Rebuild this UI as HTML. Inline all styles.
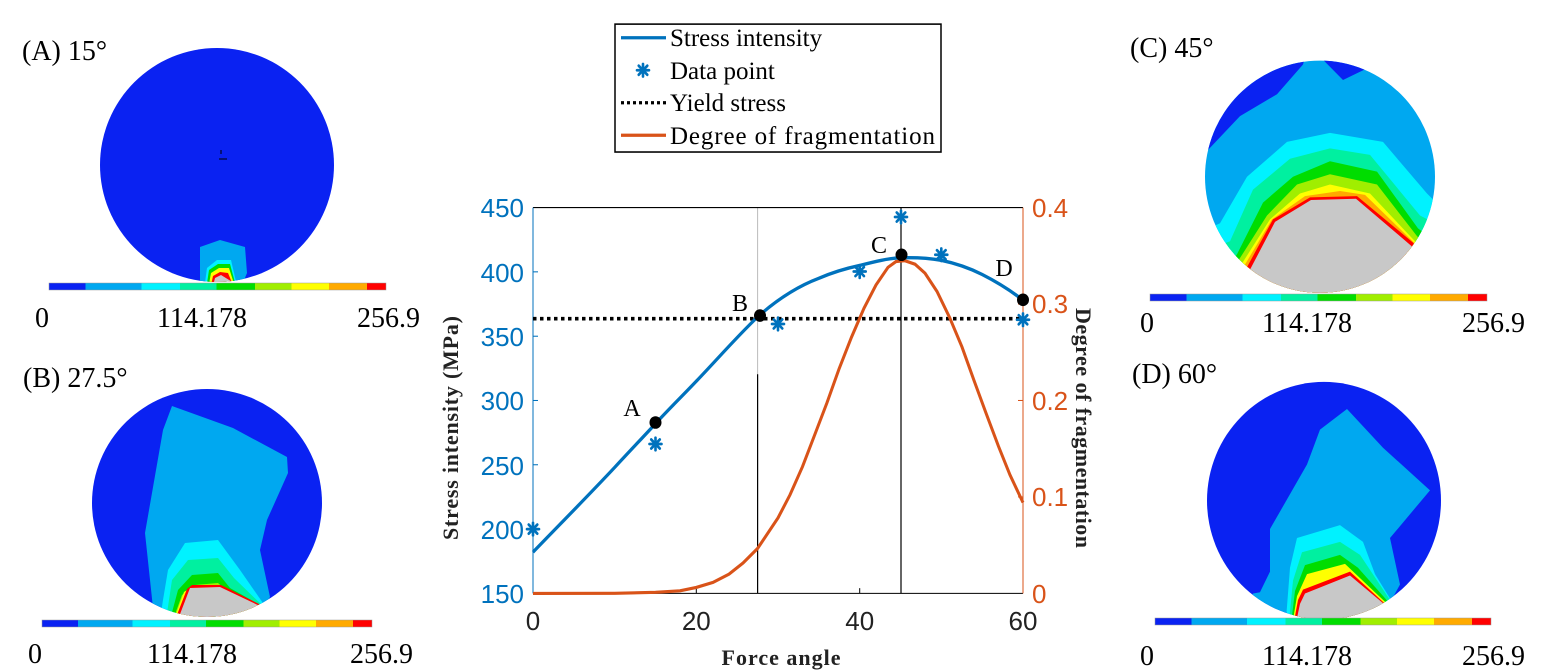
<!DOCTYPE html>
<html><head><meta charset="utf-8"><style>html,body{margin:0;padding:0;background:#fff}svg{display:block}</style></head>
<body>
<svg width="1558" height="671" viewBox="0 0 1558 671" xmlns="http://www.w3.org/2000/svg" font-family="'Liberation Serif', serif">
<defs>
<linearGradient id="cb" x1="0" x2="1" y1="0" y2="0">
<stop offset="0" stop-color="#0a22f2"/><stop offset="0.109" stop-color="#0a22f2"/>
<stop offset="0.109" stop-color="#00a8f0"/><stop offset="0.274" stop-color="#00a8f0"/>
<stop offset="0.274" stop-color="#00f2ff"/><stop offset="0.388" stop-color="#00f2ff"/>
<stop offset="0.388" stop-color="#00f0a0"/><stop offset="0.497" stop-color="#00f0a0"/>
<stop offset="0.497" stop-color="#00dd00"/><stop offset="0.611" stop-color="#00dd00"/>
<stop offset="0.611" stop-color="#a0ee00"/><stop offset="0.72" stop-color="#a0ee00"/>
<stop offset="0.72" stop-color="#ffff00"/><stop offset="0.831" stop-color="#ffff00"/>
<stop offset="0.831" stop-color="#ffaa00"/><stop offset="0.943" stop-color="#ffaa00"/>
<stop offset="0.943" stop-color="#ff0000"/><stop offset="1" stop-color="#ff0000"/>
</linearGradient>
<clipPath id="ca"><ellipse cx="217" cy="165" rx="117" ry="117"/></clipPath>
<clipPath id="cbb"><ellipse cx="207" cy="503" rx="115" ry="114"/></clipPath>
<clipPath id="cc"><ellipse cx="1320" cy="137" rx="115" ry="90"/></clipPath>
<clipPath id="cd"><ellipse cx="1324" cy="388" rx="117" ry="92"/></clipPath>
<g id="ast" stroke="#0072BD" stroke-width="2.6" stroke-linecap="round">
<line x1="-6" y1="0" x2="6" y2="0"/><line x1="0" y1="-6" x2="0" y2="6"/><line x1="-4.3" y1="-4.3" x2="4.3" y2="4.3"/><line x1="-4.3" y1="4.3" x2="4.3" y2="-4.3"/>
</g>
</defs>

<!-- Panel A -->
<text x="22" y="60" font-size="28">(A) 15°</text>
<g clip-path="url(#ca)">
<rect x="90" y="40" width="260" height="250" fill="#0a22f2"/>
<path d="M200,247 L220,240 L245,247 L247,273 L240,290 L200,290 Z" fill="#00a8f0"/>
<path d="M204,290 L207,268 L217,260 L231,260 L238,290 Z" fill="#00f2ff"/>
<path d="M206,290 L209,270 L218,264 L230,264 L237,290 Z" fill="#00dd00"/>
<path d="M208,290 L211,273 L219,268 L229,268 L236,290 Z" fill="#ffff00"/>
<path d="M210,290 L213,276 L220,272 L228,273 L235,290 Z" fill="#ff0000"/>
<path d="M212,290 L215,278 L221,275 L234,283 L234,290 Z" fill="#c8c8c8"/>
</g>
<path d="M221,154 l0,-4 M219,159 l8,0" stroke="#000" stroke-width="1"/>
<rect x="49" y="283" width="337" height="7" fill="url(#cb)" stroke="#999" stroke-width="0.5"/>
<g font-size="28"><text x="35" y="327">0</text><text x="157" y="327">114.178</text><text x="357" y="327">256.9</text></g>

<!-- Panel B -->
<text x="23" y="387" font-size="28">(B) 27.5°</text>
<g clip-path="url(#cbb)">
<rect x="85" y="385" width="245" height="240" fill="#0a22f2"/>
<path d="M172,406 L233,428 L287,457 L288,473 L267,520 L260,550 L270,597 L263,608 L153,608 L145,533 L163,430 Z" fill="#00a8f0"/>
<path d="M160,620 L163,600 L168,570 L185,543 L218,540 L240,570 L265,606 L265,620 Z" fill="#00f2ff"/>
<path d="M166,620 L172,580 L188,560 L218,558 L234,578 L265,608 L265,620 Z" fill="#00f0a0"/>
<path d="M170,620 L178,590 L192,575 L218,573 L230,588 L265,608 L265,620 Z" fill="#00dd00"/>
<path d="M173,620 L182,595 L195,585 L218,583 L228,592 L265,608 L265,620 Z" fill="#a0ee00"/>
<path d="M174,620 L184,592 L193,586 L221,587 L265,608 L265,620 Z" fill="#ffff00"/>
<path d="M175,620 L187,589 L192,585 L221,585 L263,606 L265,620 Z" fill="#ff0000"/>
<path d="M177,622 L190,588 L220,587 L262,607 L262,622 Z" fill="#c8c8c8"/>
</g>
<rect x="42" y="620" width="330" height="7" fill="url(#cb)" stroke="#999" stroke-width="0.5"/>
<g font-size="28"><text x="28" y="663">0</text><text x="147" y="663">114.178</text><text x="350" y="663">256.9</text></g>

<!-- Panel C -->
<text x="1130" y="57" font-size="28">(C) 45°</text>
<g transform="scale(1,1.2903)">
<g clip-path="url(#cc)">
<rect x="1200" y="40" width="240" height="190" fill="#00a8f0"/>
<path d="M1195,30 L1195,117 L1207,117 L1240,90 L1277,73 L1303,50 L1310,30 Z" fill="#0a22f2"/>
<path d="M1315,40 L1343,62 L1367,53 L1370,40 Z" fill="#0a22f2"/>
<path d="M1200,240 L1200,180 L1220,173 L1247,137 L1287,110 L1330,103 L1383,110 L1427,150 L1440,160 L1440,240 Z" fill="#00f2ff"/>
<path d="M1200,240 L1220,190 L1230,187 L1253,147 L1290,123 L1330,115 L1370,120 L1420,167 L1440,175 L1440,240 Z" fill="#00f0a0"/>
<path d="M1200,240 L1237,197 L1263,157 L1293,137 L1330,125 L1377,133 L1418,177 L1440,190 L1440,240 Z" fill="#00dd00"/>
<path d="M1200,240 L1240,200 L1267,167 L1297,143 L1330,135 L1377,143 L1417,183 L1440,200 L1440,240 Z" fill="#a0ee00"/>
<path d="M1200,240 L1243,203 L1270,170 L1300,150 L1330,143 L1370,150 L1415,187 L1440,205 L1440,240 Z" fill="#ffff00"/>
<path d="M1200,240 L1245,205 L1272,170 L1305,152 L1340,148 L1365,151 L1414,188 L1440,210 L1440,240 Z" fill="#ffaa00"/>
<path d="M1200,240 L1247,207 L1273,170 L1310,153 L1357,152 L1413,188 L1440,212 L1440,240 Z" fill="#ff0000"/>
<path d="M1200,240 L1250,209 L1275,172 L1311,155 L1356,154 L1412,191 L1440,214 L1440,240 Z" fill="#c8c8c8"/>
</g>
</g>
<rect x="1150" y="294" width="337" height="7" fill="url(#cb)" stroke="#999" stroke-width="0.5"/>
<g font-size="28"><text x="1140" y="332">0</text><text x="1262" y="332">114.178</text><text x="1462" y="332">256.9</text></g>

<!-- Panel D -->
<text x="1132" y="383" font-size="28">(D) 60°</text>
<g transform="scale(1,1.2903)">
<g clip-path="url(#cd)">
<rect x="1200" y="290" width="250" height="190" fill="#0a22f2"/>
<path d="M1307,360 L1320,333 L1347,317 L1383,347 L1430,380 L1390,417 L1400,453 L1388,470 L1253,470 L1270,443 L1270,410 Z" fill="#00a8f0"/>
<path d="M1240,490 L1253,460 L1290,455 L1300,470 Z" fill="#00a8f0"/>
<path d="M1285,490 L1290,440 L1297,417 L1340,407 L1363,420 L1375,445 L1395,470 L1395,490 Z" fill="#00f2ff"/>
<path d="M1288,490 L1293,450 L1302,428 L1340,420 L1360,430 L1390,465 L1390,490 Z" fill="#00f0a0"/>
<path d="M1290,490 L1295,458 L1305,438 L1340,430 L1358,440 L1390,468 L1390,490 Z" fill="#00dd00"/>
<path d="M1291,490 L1297,462 L1307,445 L1345,437 L1390,470 L1390,490 Z" fill="#ffff00"/>
<path d="M1292,490 L1298,465 L1303,457 L1350,443 L1388,470 L1388,490 Z" fill="#ff0000"/>
<path d="M1294,490 L1300,468 L1305,460 L1350,446 L1387,470 L1387,490 Z" fill="#c8c8c8"/>
</g>
</g>
<rect x="1155" y="618" width="336" height="7" fill="url(#cb)" stroke="#999" stroke-width="0.5"/>
<g font-size="28"><text x="1140" y="665">0</text><text x="1262" y="665">114.178</text><text x="1462" y="665">256.9</text></g>

<!-- Chart graphics (vertically scaled) -->
<g transform="scale(1,1.0484)">
<rect x="615" y="23" width="326" height="122" fill="#fff" stroke="#000" stroke-width="1.5"/>
<line x1="621" y1="36" x2="666" y2="36" stroke="#0072BD" stroke-width="3"/>
<use href="#ast" x="643" y="67"/>
<line x1="621" y1="98" x2="666" y2="98" stroke="#000" stroke-width="3" stroke-dasharray="3,3"/>
<line x1="621" y1="129" x2="666" y2="129" stroke="#D95319" stroke-width="3"/>

<line x1="757.6" y1="198" x2="757.6" y2="566" stroke="#bbb" stroke-width="1"/>
<line x1="757.6" y1="357" x2="757.6" y2="566" stroke="#000" stroke-width="1.2"/>
<line x1="901" y1="198" x2="901" y2="566" stroke="#000" stroke-width="1.2"/>
<line x1="533" y1="198" x2="1023" y2="198" stroke="#000" stroke-width="1"/>
<line x1="533" y1="566" x2="1023" y2="566" stroke="#000" stroke-width="1"/>
<line x1="533" y1="198" x2="533" y2="566" stroke="#0072BD" stroke-width="1"/>
<line x1="1023" y1="198" x2="1023" y2="566" stroke="#D95319" stroke-width="1"/>
<g stroke="#000" stroke-width="1">
<line x1="696.3" y1="566" x2="696.3" y2="561"/><line x1="859.7" y1="566" x2="859.7" y2="561"/>
</g>
<g stroke="#0072BD" stroke-width="1">
<line x1="533" y1="504.7" x2="538" y2="504.7"/><line x1="533" y1="443.3" x2="538" y2="443.3"/><line x1="533" y1="382" x2="538" y2="382"/><line x1="533" y1="320.7" x2="538" y2="320.7"/><line x1="533" y1="259.3" x2="538" y2="259.3"/>
</g>
<g stroke="#D95319" stroke-width="1">
<line x1="1018" y1="474" x2="1023" y2="474"/><line x1="1018" y1="382" x2="1023" y2="382"/><line x1="1018" y1="290" x2="1023" y2="290"/>
</g>

<line x1="533" y1="304" x2="1023" y2="304" stroke="#000" stroke-width="3.5" stroke-dasharray="3.5,3.5"/>

<polyline fill="none" stroke="#D95319" stroke-width="3" points="533,566 614.7,565.9 655.5,565 680,563.5 696.3,560.3 713,555.5 729,547.6 743,537 757.6,523.1 778,494 790,472 802.5,445.1 815,414 827,384.1 839,352 851.5,321.6 864,294 876,271.8 888,255 896,249.5 904.6,248.6 915,252 925,260.6 937,278 949.5,302.6 962,331 974,362.9 986,394 998.5,425.7 1010,453 1023,479.4"/>

<path fill="none" stroke="#0072BD" stroke-width="3.2" d="M533,526.7 C560,500 590,471 614.7,445.8 C628,432 642,418 655.5,404.1 C669,390 683,377 696.3,363.6 C717,343 737,321 757.6,302.3 C778,285 798,273 818.8,265.5 C832,260 846,256 859.7,253.2 C873,250 887,246.5 900.5,245.9 C914,245.5 928,246 941.3,248.3 C955,251 969,255.5 982.2,261.8 C996,268.5 1010,276.5 1023,286.4"/>

<use href="#ast" x="533" y="504.7"/>
<use href="#ast" x="655.5" y="423.5"/>
<use href="#ast" x="778" y="309"/>
<use href="#ast" x="859.7" y="259"/>
<use href="#ast" x="901" y="207"/>
<use href="#ast" x="941.3" y="243"/>
<use href="#ast" x="1023" y="305"/>

<g fill="#000">
<circle cx="655.5" cy="403" r="6"/><circle cx="760" cy="301" r="6"/><circle cx="901.5" cy="243" r="6"/><circle cx="1023" cy="286" r="6"/>
</g>
</g>

<!-- Legend text -->
<g font-size="25">
<text x="670" y="46">Stress intensity</text>
<text x="670" y="79">Data point</text>
<text x="670" y="111">Yield stress</text>
<text x="670" y="144" textLength="265">Degree of fragmentation</text>
</g>

<g font-family="'Liberation Sans', sans-serif" font-size="26" fill="#0072BD" text-anchor="end">
<text x="524" y="603">150</text><text x="524" y="539">200</text><text x="524" y="475">250</text><text x="524" y="410">300</text><text x="524" y="346">350</text><text x="524" y="282">400</text><text x="524" y="217">450</text>
</g>
<g font-family="'Liberation Sans', sans-serif" font-size="26" fill="#D95319">
<text x="1032" y="603">0</text><text x="1032" y="506">0.1</text><text x="1032" y="410">0.2</text><text x="1032" y="313">0.3</text><text x="1032" y="217">0.4</text>
</g>
<g font-family="'Liberation Sans', sans-serif" font-size="26" fill="#222" text-anchor="middle">
<text x="533" y="630">0</text><text x="696.3" y="630">20</text><text x="859.7" y="630">40</text><text x="1023" y="630">60</text>
</g>
<text x="781" y="665" font-size="22" font-weight="bold" text-anchor="middle" fill="#222" textLength="119">Force angle</text>
<text transform="translate(458,428) rotate(-90)" font-size="22" font-weight="bold" text-anchor="middle" fill="#222" textLength="224">Stress intensity (MPa)</text>
<text transform="translate(1076,428) rotate(90)" font-size="22" font-weight="bold" text-anchor="middle" fill="#222" textLength="240">Degree of fragmentation</text>

<g font-size="24" fill="#000" text-anchor="middle">
<text x="632" y="416">A</text><text x="740" y="311">B</text><text x="879" y="253">C</text><text x="1004" y="276">D</text>
</g>
</svg>
</body></html>
